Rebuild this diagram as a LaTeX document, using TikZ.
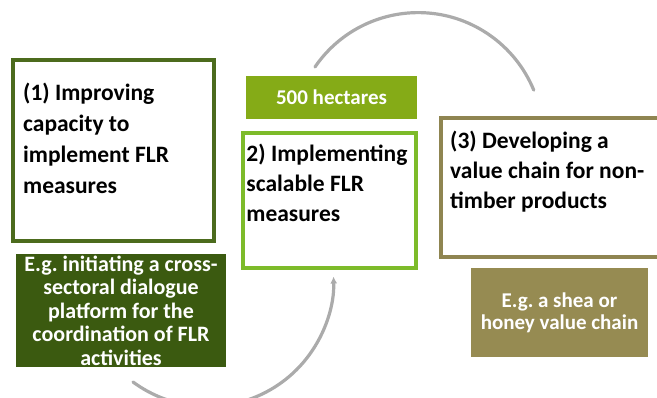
\documentclass[tikz,border=0pt]{standalone}
\usepackage{fontspec}
\setmainfont{Carlito}
\usetikzlibrary{positioning,arrows.meta}
\definecolor{darkleaf}{HTML}{4C6B1D}
\definecolor{darkfill}{HTML}{3B5A10}
\definecolor{lightleaf}{HTML}{7DBB2A}
\definecolor{grassfill}{HTML}{85AB17}
\definecolor{mudline}{HTML}{8F8551}
\definecolor{mudfill}{HTML}{968B52}
\definecolor{arcgray}{HTML}{ABABAB}
\frenchspacing

\begin{document}
\begin{tikzpicture}[x=1pt, y=-1pt,
	boxframe/.style = {draw, line width=4pt, inner sep=0pt},
	heading/.style = {font=\bfseries\fontsize{23.5}{31}\selectfont, align=left, inner sep=0pt},
	tag/.style = {fill, text=white, inner sep=0pt, align=center, font=\bfseries\fontsize{21}{23.5}\selectfont},
	ring/.style = {draw=arcgray, line width=3.2pt, line cap=round}]
	\useasboundingbox (0,0) rectangle (657,398);
	% the three measures
	\node[boxframe, draw=darkleaf, minimum width=201pt, minimum height=181pt] (1) at (113.5,150.5) {};
	\node[boxframe, draw=lightleaf, line width=3.5pt, minimum width=173pt, minimum height=135pt] (2) at (329.5,200.5) {};
	\node[boxframe, draw=mudline, minimum width=229pt, minimum height=139pt] (3) at (555.5,187.5) {};
	\node[heading] (1t) [below right=25pt and 12pt of 1.north west] {(1) Improving\\capacity to\\implement FLR\\measures};
	\node[heading, font=\bfseries\fontsize{23.5}{30}\selectfont] (2t) [below right=12.4pt and 5pt of 2.north west] {2) Implementing\\scalable FLR\\measures};
	\node[heading, font=\bfseries\fontsize{23.5}{30}\selectfont] (3t) [below right=14.4pt and 11pt of 3.north west] {(3) Developing a\\value chain for non-\\timber products};
	% examples
	\node[tag, fill=darkfill, minimum width=210pt, minimum height=113pt, font=\bfseries\fontsize{22}{23.5}\selectfont] (1a) at (121,310.5) {E.g. initiating a cross-\\sectoral dialogue\\platform for the\\coordination of FLR\\activities};
	\node[tag, fill=grassfill, minimum width=171pt, minimum height=43pt] (2a) at (331.5,97.5) {500 hectares};
	\node[tag, fill=mudfill, minimum width=177pt, minimum height=89pt, font=\bfseries\fontsize{21}{22}\selectfont] (3a) at (559.5,312.5) {E.g. a shea or\\honey value chain};
	% cycle arcs
	\coordinate (up) at (315,67);
	\coordinate (low) at (133,382);
	\draw[ring] (up) arc[start angle=-145.6, end angle=-22.3, radius=125];
	\draw[ring, -{Latex[length=7pt,width=7pt]}] (low) arc[start angle=126.3, end angle=-1.8, radius=126];
\end{tikzpicture}
\end{document}
